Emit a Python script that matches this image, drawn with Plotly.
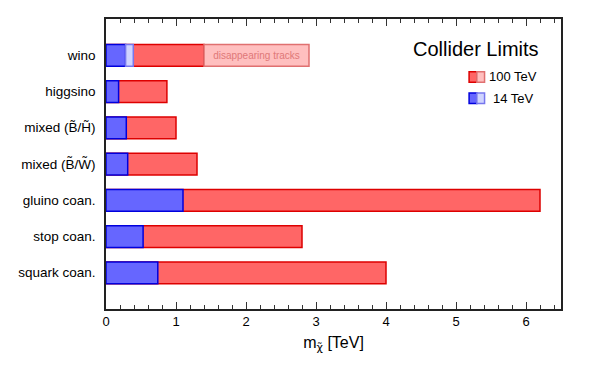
import plotly.graph_objects as go

# categories, top to bottom
models = ["wino", "higgsino", "mixed (B\u0303/H\u0303)", "mixed (B\u0303/W\u0303)",
          "gluino coan.", "stop coan.", "squark coan."]
# reach in TeV
reach_14 = [0.28, 0.18, 0.29, 0.31, 1.10, 0.53, 0.74]
reach_100 = [1.40, 0.87, 1.00, 1.30, 6.20, 2.80, 4.00]
# disappearing tracks extensions (wino only)
dt_model = ["wino"]
dt_14_lo, dt_14_hi = [0.28], [0.39]
dt_100_lo, dt_100_hi = [1.40], [2.90]

RED_F, RED_L = "#ff6666", "#dd0000"
BLUE_F, BLUE_L = "#6666ff", "#0000dd"
LRED_F, LRED_L = "#ffbfbf", "#e07070"
LBLUE_F, LBLUE_L = "#d0d4ff", "#7777ee"

fig = go.Figure()
fig.add_bar(y=models, x=reach_100, orientation="h", width=0.6,
            marker=dict(color=RED_F, line=dict(color=RED_L, width=1.5)), name="100 TeV")
fig.add_bar(y=dt_model, x=[h - l for l, h in zip(dt_100_lo, dt_100_hi)], base=dt_100_lo,
            orientation="h", width=0.6,
            marker=dict(color=LRED_F, line=dict(color=LRED_L, width=1.5)),
            text=["disappearing tracks"], textposition="inside", insidetextanchor="middle",
            textfont=dict(color="#e07878", size=10), name="100 TeV DT")
fig.add_bar(y=models, x=reach_14, orientation="h", width=0.6,
            marker=dict(color=BLUE_F, line=dict(color=BLUE_L, width=1.5)), name="14 TeV")
fig.add_bar(y=dt_model, x=[h - l for l, h in zip(dt_14_lo, dt_14_hi)], base=dt_14_lo,
            orientation="h", width=0.6,
            marker=dict(color=LBLUE_F, line=dict(color=LBLUE_L, width=1.5)), name="14 TeV DT")

# legend drawn by hand (split icons)
fig.add_annotation(x=0.957, y=0.897, xref="paper", yref="paper", text="Collider Limits",
                   showarrow=False, xanchor="right", yanchor="middle",
                   font=dict(size=20, color="black"))
legend_rows = [("100 TeV", RED_F, RED_L, LRED_F, LRED_L, 0.80),
               ("14 TeV", BLUE_F, BLUE_L, LBLUE_F, LBLUE_L, 0.727)]
for label, f1, l1, f2, l2, yy in legend_rows:
    x0 = 0.798
    fig.add_shape(type="rect", xref="paper", yref="paper", x0=x0, x1=x0 + 0.017,
                  y0=yy - 0.018, y1=yy + 0.018, fillcolor=f1, line=dict(color=l1, width=1.5))
    fig.add_shape(type="rect", xref="paper", yref="paper", x0=x0 + 0.017, x1=x0 + 0.034,
                  y0=yy - 0.018, y1=yy + 0.018, fillcolor=f2, line=dict(color=l2, width=1.5))
    fig.add_annotation(x=0.895, y=yy, xref="paper", yref="paper", text=label,
                       showarrow=False, xanchor="center", yanchor="middle",
                       font=dict(size=13, color="black"))

fig.update_layout(
    width=591, height=369, barmode="overlay", showlegend=False,
    margin=dict(l=106, r=30, t=19, b=60),
    plot_bgcolor="white", paper_bgcolor="white",
    font=dict(family="Liberation Sans, Arial, sans-serif", size=13, color="black"),
    xaxis=dict(range=[0, 6.5], dtick=1, ticks="inside", ticklen=7, tickwidth=1,
               tickcolor="#333", showline=True, linecolor="#222", linewidth=1.5,
               mirror="ticks", showgrid=False, zeroline=False,
               minor=dict(dtick=0.2, ticks="inside", ticklen=4, tickcolor="#333"),
               title=dict(text="m<sub><span style='font-family:DejaVu Sans'>\u03c7\u0303</span></sub> [TeV]",
                          font=dict(size=16), standoff=8)),
    yaxis=dict(range=[7, -1], showline=True, linecolor="#222", linewidth=1.5,
               mirror=True, showgrid=False, ticks="", ticklabelstandoff=6,
               tickfont=dict(size=13.5)),
)

fig.write_html("out.html", config={"displayModeBar": False},
               post_script="document.body.style.margin='0';")
